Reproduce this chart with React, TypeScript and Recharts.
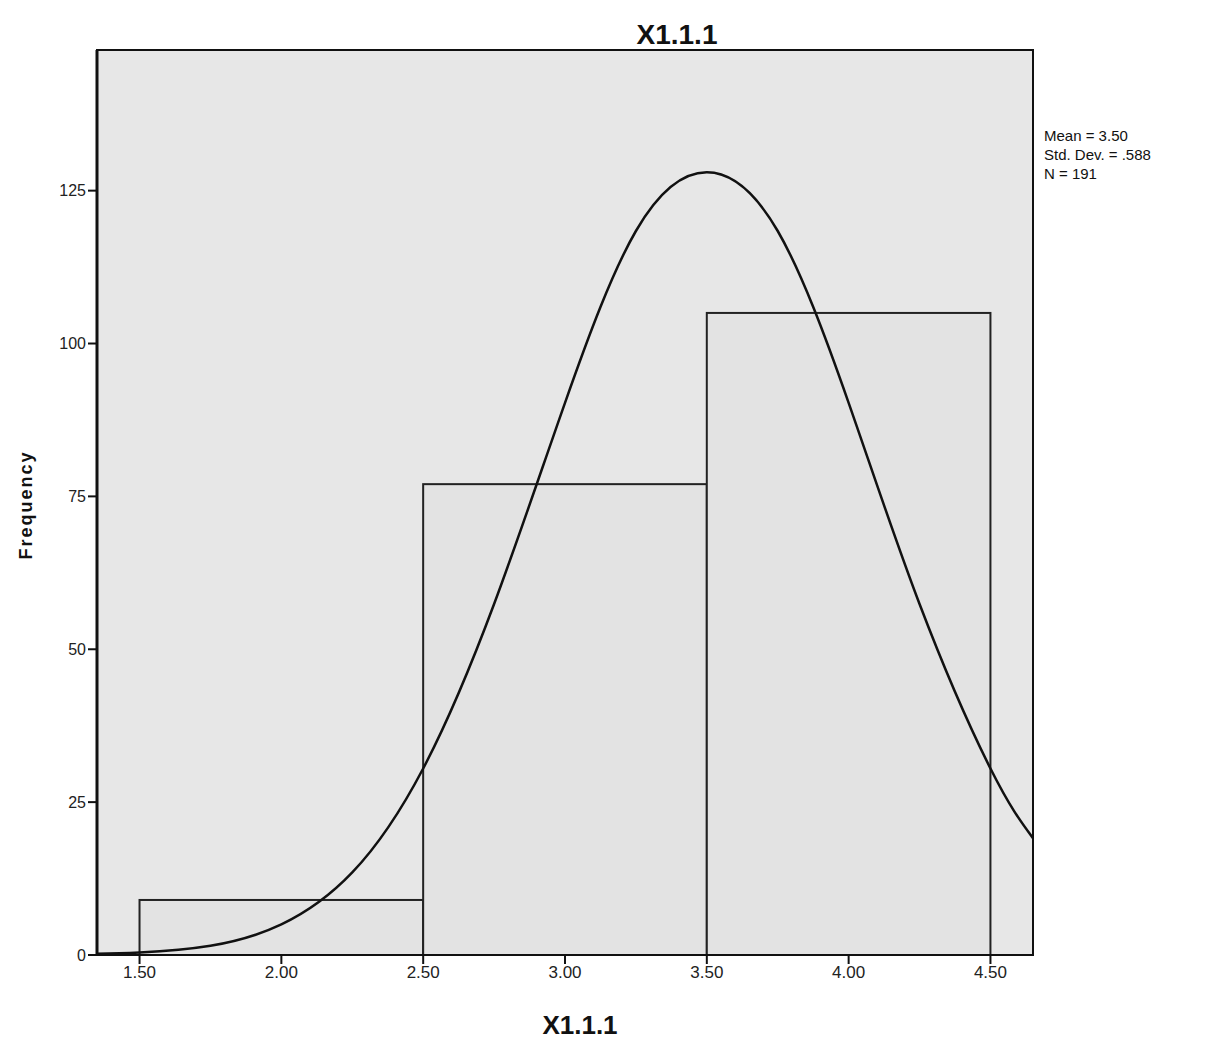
import * as React from 'react';
import { ComposedChart, Bar, Line, XAxis, YAxis, ReferenceArea } from 'recharts';

// histogram bins (bin centres) and counts
const binCenters = [2, 3, 4];
const frequencies = [9, 77, 105];

// fitted normal curve
const curveX = [1.35, 1.5, 1.75, 2.0, 2.25, 2.5, 2.75, 3.0, 3.25, 3.5, 3.75, 4.0, 4.25, 4.5, 4.65];
const curveY = [0.2, 0.4, 1.5, 5, 13.5, 30.5, 57.4, 90.3, 118.4, 128, 118.4, 90.3, 57.4, 30.5, 19.1];

const xTicks = [1.5, 2.0, 2.5, 3.0, 3.5, 4.0, 4.5];
const yTicks = [0, 25, 50, 75, 100, 125];
const statsLines = ['Mean = 3.50', 'Std. Dev. = .588', 'N = 191'];

const X_DOMAIN: [number, number] = [1.35, 4.65];
const Y_DOMAIN: [number, number] = [0, 148];

const W = 1207;
const H = 1040;
const margin = { top: 42, right: 182, bottom: 53, left: 39 };
const Y_AXIS_W = 50;
const plotW = W - margin.left - margin.right - Y_AXIS_W;
const binPx = plotW / (X_DOMAIN[1] - X_DOMAIN[0]);

const font = '"Liberation Sans", Arial, sans-serif';

const data = curveX.map((x, i) => {
  const b = binCenters.indexOf(x);
  return { x, curve: curveY[i], freq: b >= 0 ? frequencies[b] : undefined };
});

// widen each bar to a full bin around the centre the library placed it at
const BinBar = (props: any) => {
  const { x, y, width, height } = props;
  if (height == null || !width) return null;
  const cx = x + width / 2;
  return (
    <rect x={cx - binPx / 2} y={y} width={binPx} height={height} fill="#e3e3e3" stroke="#222" strokeWidth={2} />
  );
};

export default function App() {
  return (
    <div style={{ position: 'relative', width: W, height: H, fontFamily: font }}>
      <ComposedChart width={W} height={H} data={data} margin={margin}>
        <ReferenceArea
          x1={X_DOMAIN[0]}
          x2={X_DOMAIN[1]}
          y1={Y_DOMAIN[0]}
          y2={Y_DOMAIN[1]}
          fill="#e7e7e7"
          fillOpacity={1}
          stroke="#111"
          strokeWidth={2}
        />
        <XAxis
          dataKey="x"
          type="number"
          domain={X_DOMAIN}
          ticks={xTicks}
          allowDataOverflow
          tickFormatter={(v: number) => v.toFixed(2)}
          tick={{ fill: '#222', fontSize: 17, fontFamily: font }}
          tickSize={9}
          axisLine={{ stroke: '#111', strokeWidth: 2 }}
          tickLine={{ stroke: '#111', strokeWidth: 2 }}
          height={40}
        />
        <YAxis
          type="number"
          domain={Y_DOMAIN}
          ticks={yTicks}
          allowDataOverflow
          tick={{ fill: '#222', fontSize: 16, fontFamily: font }}
          tickSize={9}
          axisLine={{ stroke: '#111', strokeWidth: 3 }}
          tickLine={{ stroke: '#111', strokeWidth: 2 }}
          width={Y_AXIS_W}
        />
        <Bar dataKey="freq" shape={BinBar} isAnimationActive={false} />
        <Line
          dataKey="curve"
          type="natural"
          stroke="#111"
          strokeWidth={2.5}
          dot={false}
          isAnimationActive={false}
        />
      </ComposedChart>

      <div style={{ position: 'absolute', left: 669, top: 27, transform: 'translate(-50%, -50%)', fontSize: 28, fontWeight: 'bold', color: '#111' }}>
        X1.1.1
      </div>
      <div style={{ position: 'absolute', left: 572, top: 1017, transform: 'translate(-50%, -50%)', fontSize: 26, fontWeight: 'bold', color: '#111' }}>
        X1.1.1
      </div>
      <div style={{ position: 'absolute', left: 18, top: 497, transform: 'translate(-50%, -50%) rotate(-90deg)', fontSize: 18, fontWeight: 'bold', letterSpacing: 2, color: '#111', whiteSpace: 'nowrap' }}>
        Frequency
      </div>
      <div style={{ position: 'absolute', left: 1036, top: 118, fontSize: 15, lineHeight: '19px', color: '#111' }}>
        {statsLines.map(s => (
          <div key={s}>{s}</div>
        ))}
      </div>
    </div>
  );
}
